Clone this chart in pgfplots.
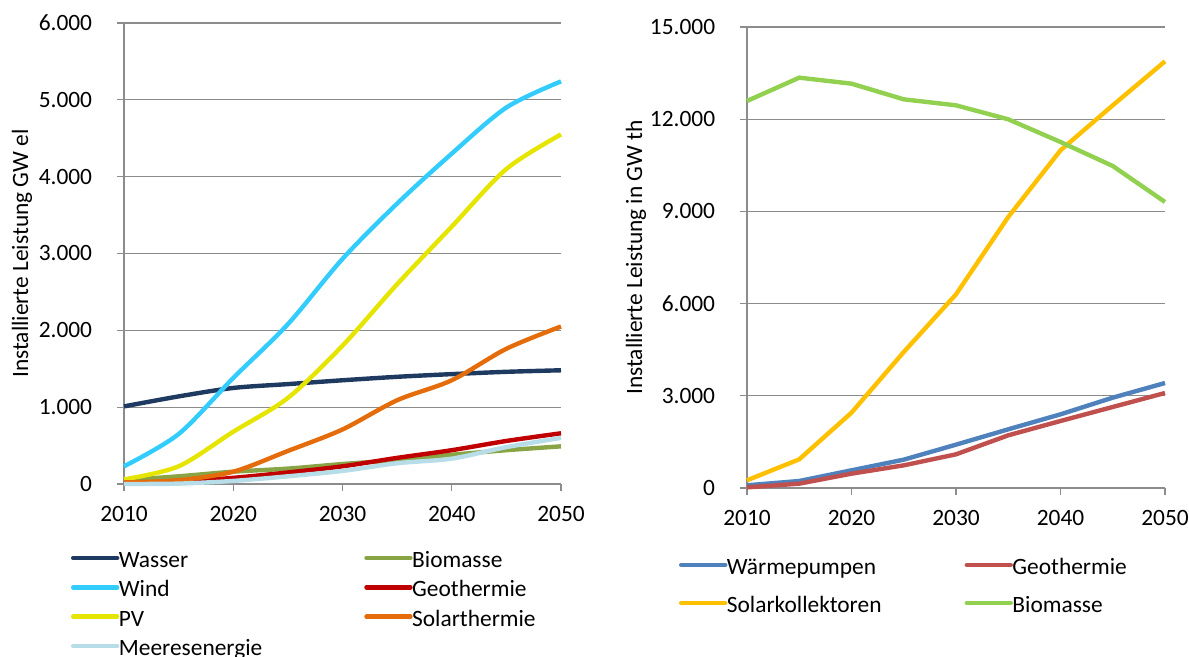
\documentclass[border=0pt]{standalone}
\usepackage{fontspec}
\setmainfont{Carlito}
\usepackage{pgfplots}
\pgfplotsset{compat=1.18}
\definecolor{gridgray}{HTML}{8C8C8C}
\definecolor{cWasser}{HTML}{1F3A60}
\definecolor{cWind}{HTML}{33CCFF}
\definecolor{cPV}{HTML}{E5E500}
\definecolor{cBioL}{HTML}{88A444}
\definecolor{cGeoL}{HTML}{C00000}
\definecolor{cSolT}{HTML}{E46C0A}
\definecolor{cMeer}{HTML}{B7DEE8}
\definecolor{cWP}{HTML}{4F81BD}
\definecolor{cGeoR}{HTML}{C0504D}
\definecolor{cSolK}{HTML}{FFC000}
\definecolor{cBioR}{HTML}{92D050}
\newcommand\myfont{\fontsize{11.7}{14}\selectfont}
\pgfplotsset{
 mystyle/.style={
  scale only axis, axis lines=left, axis line style={-, draw=gridgray, line width=0.6pt},
  ymajorgrids, grid style={draw=gridgray, line width=0.6pt},
  xmin=2010, xmax=2050, ymin=0, enlargelimits=false,
  xtick={2010,2020,2030,2040,2050},
  scaled y ticks=false, scaled x ticks=false,
  tick align=outside, major tick length=3.75pt, tick style={draw=gridgray, line width=0.6pt},
  /pgf/number format/assume math mode=true,
  x tick label style={/pgf/number format/1000 sep={}, anchor=north, inner sep=0pt, yshift=-7pt, font=\myfont},
  y tick label style={/pgf/number format/1000 sep={.}, anchor=east, inner sep=0pt, xshift=-12pt, font=\myfont},
  label style={font=\myfont},
  clip=false,
  legend cell align=left,
  legend columns=2,
  legend image code/.code={\draw[##1, line cap=round] (0pt,1pt) -- (22pt,1pt);},
  legend style={draw=none, fill=none, inner sep=0pt, outer sep=0pt, font=\myfont, anchor=north west,
    nodes={inner sep=0pt, text height=7.5pt, text depth=0pt},
    /tikz/every odd column/.style={column sep=-0.25pt}},
  every axis plot/.append style={line width=2.2pt},
 }
}
\begin{document}
\begin{tikzpicture}
\useasboundingbox (0,0) rectangle (594.5pt,328.5pt);
% left panel
\begin{axis}[mystyle,
  at={(62pt,86.5pt)}, anchor=south west,
  width=218.5pt, height=230.5pt,
  ymax=6000, ytick={0,1000,2000,3000,4000,5000,6000},
  ylabel={Installierte Leistung GW el},
  y label style={at={(axis description cs:-0.2334,0.5)}, anchor=center},
  legend style={at={(axis description cs:-0.1213,-0.1487)}, row sep=7.15pt,
    /tikz/every even column/.style={column sep=51pt}},
  every axis plot/.append style={smooth},
]
\addplot[cWasser] coordinates {(2010,1010)(2015,1140)(2020,1250)(2025,1300)(2030,1350)(2035,1395)(2040,1430)(2045,1460)(2050,1480)};
\addlegendentry{Wasser}
\addplot[cBioL] coordinates {(2010,50)(2015,100)(2020,160)(2025,200)(2030,260)(2035,310)(2040,380)(2045,440)(2050,490)};
\addlegendentry{Biomasse}
\addplot[cWind] coordinates {(2010,230)(2015,650)(2020,1380)(2025,2080)(2030,2930)(2035,3650)(2040,4300)(2045,4900)(2050,5240)};
\addlegendentry{Wind}
\addplot[cGeoL] coordinates {(2010,10)(2015,30)(2020,80)(2025,150)(2030,230)(2035,340)(2040,440)(2045,560)(2050,660)};
\addlegendentry{Geothermie}
\addplot[cPV] coordinates {(2010,60)(2015,230)(2020,680)(2025,1120)(2030,1800)(2035,2600)(2040,3350)(2045,4100)(2050,4550)};
\addlegendentry{PV}
\addplot[cSolT] coordinates {(2010,20)(2015,50)(2020,160)(2025,430)(2030,710)(2035,1090)(2040,1350)(2045,1760)(2050,2050)};
\addlegendentry{Solarthermie}
\addplot[cMeer] coordinates {(2010,0)(2015,5)(2020,40)(2025,100)(2030,170)(2035,270)(2040,330)(2045,480)(2050,600)};
\addlegendentry{Meeresenergie}
\end{axis}
% right panel
\begin{axis}[mystyle,
  at={(373.5pt,84.5pt)}, anchor=south west,
  width=209pt, height=230.5pt,
  ymax=15000, ytick={0,3000,6000,9000,12000,15000},
  ylabel={Installierte Leistung in GW th},
  y label style={at={(axis description cs:-0.2656,0.5)}, anchor=center},
  legend style={at={(axis description cs:-0.1627,-0.155)}, row sep=11.5pt,
    /tikz/every even column/.style={column sep=41.5pt}},
]
\addplot[cWP] coordinates {(2010,87)(2015,228)(2020,575)(2025,922)(2030,1410)(2035,1909)(2040,2397)(2045,2939)(2050,3416)};
\addlegendentry{Wärmepumpen}
\addplot[cGeoR] coordinates {(2010,20)(2015,141)(2020,466)(2025,737)(2030,1095)(2035,1714)(2040,2180)(2045,2636)(2050,3091)};
\addlegendentry{Geothermie}
\addplot[cSolK] coordinates {(2010,250)(2015,933)(2020,2451)(2025,4425)(2030,6301)(2035,8818)(2040,10987)(2045,12451)(2050,13883)};
\addlegendentry{Solarkollektoren}
\addplot[cBioR] coordinates {(2010,12592)(2015,13351)(2020,13156)(2025,12646)(2030,12451)(2035,11996)(2040,11258)(2045,10477)(2050,9306)};
\addlegendentry{Biomasse}
\end{axis}
\end{tikzpicture}
\end{document}
